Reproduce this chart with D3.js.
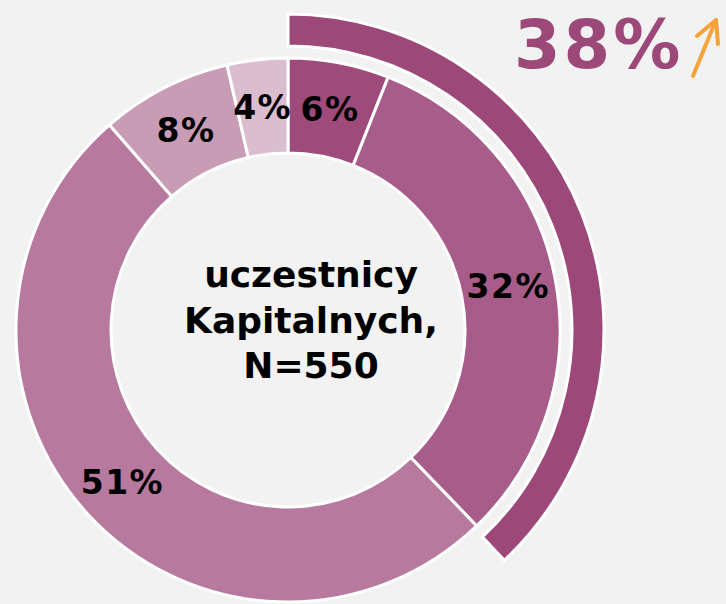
<!DOCTYPE html>
<html>
<head>
<meta charset="utf-8">
<script src="https://cdn.jsdelivr.net/npm/d3@7"></script>
<style>
  body { margin: 0; background: #f2f2f2; }
  svg { display: block; }
  text { font-family: "DejaVu Sans", Verdana, sans-serif; font-weight: bold; }
</style>
</head>
<body>
<svg id="chart" width="726" height="604"></svg>
<script>
// udzialy segmentow (w %), zgodnie z ruchem wskazowek od godz. 12
const categories = ["a", "b", "c", "d", "e"];
const shares = [6.0, 31.8, 50.8, 7.8, 3.6];
const colors = ["#9e4a7a", "#a75c89", "#b77a9e", "#c99cb6", "#dbbdd0"];
// luk zbiorczy nad dwoma pierwszymi segmentami
const highlightValue = [38];
const centerLines = ["uczestnicy", "Kapitalnych,", "N=550"];

const svg = d3.select("#chart");
const cx = 288, cy = 330;

const g = svg.append("g").attr("transform", `translate(${cx},${cy})`);

// Dane w formie dla pie
const data = categories.map((c, i) => ({ name: c, value: shares[i], color: colors[i] }));

const pie = d3.pie()
  .sort(null)
  .value(d => d.value);

const arc = d3.arc()
  .innerRadius(177)
  .outerRadius(272);

const arcs = pie(data);

g.selectAll("path.slice")
  .data(arcs)
  .enter().append("path")
  .attr("class", "slice")
  .attr("d", arc)
  .attr("fill", d => d.data.color)
  .attr("stroke", "#ffffff")
  .attr("stroke-width", 3)
  .attr("stroke-linejoin", "miter");

// etykiety procentowe w srodku segmentow
g.selectAll("text.label")
  .data(arcs)
  .enter().append("text")
  .attr("class", "label")
  .attr("transform", d => `translate(${arc.centroid(d)})`)
  .attr("text-anchor", "middle")
  .attr("dy", "0.36em")
  .attr("font-size", 33)
  .attr("letter-spacing", 1.5)
  .attr("fill", "#000")
  .text(d => Math.round(d.data.value) + "%");

// zewnetrzny luk 38%
const angle = d3.scaleLinear().domain([0, 100]).range([0, 2 * Math.PI]);
const outerArc = d3.arc()
  .innerRadius(284)
  .outerRadius(316)
  .startAngle(0)
  .endAngle(d => angle(d));

g.selectAll("path.highlight")
  .data(highlightValue)
  .enter().append("path")
  .attr("class", "highlight")
  .attr("d", outerArc)
  .attr("fill", "#9c4878")
  .attr("stroke", "#ffffff")
  .attr("stroke-width", 3);

// tekst w srodku
svg.append("text")
  .attr("x", 311)
  .attr("text-anchor", "middle")
  .attr("font-size", 36)
  .attr("fill", "#000")
  .selectAll("tspan")
  .data(centerLines)
  .enter().append("tspan")
  .attr("x", 311)
  .attr("y", (d, i) => 287 + i * 45.5)
  .text(d => d);

// duzy napis 38% ze strzalka
svg.append("text")
  .attr("x", 514)
  .attr("y", 68)
  .attr("font-size", 67)
  .attr("letter-spacing", 3)
  .attr("fill", "#9c4878")
  .text(highlightValue[0] + "%");

const arrow = svg.append("g")
  .attr("stroke", "#f5a33a")
  .attr("stroke-width", 4)
  .attr("stroke-linecap", "round")
  .attr("stroke-linejoin", "round")
  .attr("fill", "none");

arrow.append("line")
  .attr("x1", 693).attr("y1", 76)
  .attr("x2", 716).attr("y2", 20);
arrow.append("polyline")
  .attr("points", "697,36 716,20 718,44");
</script>
</body>
</html>
